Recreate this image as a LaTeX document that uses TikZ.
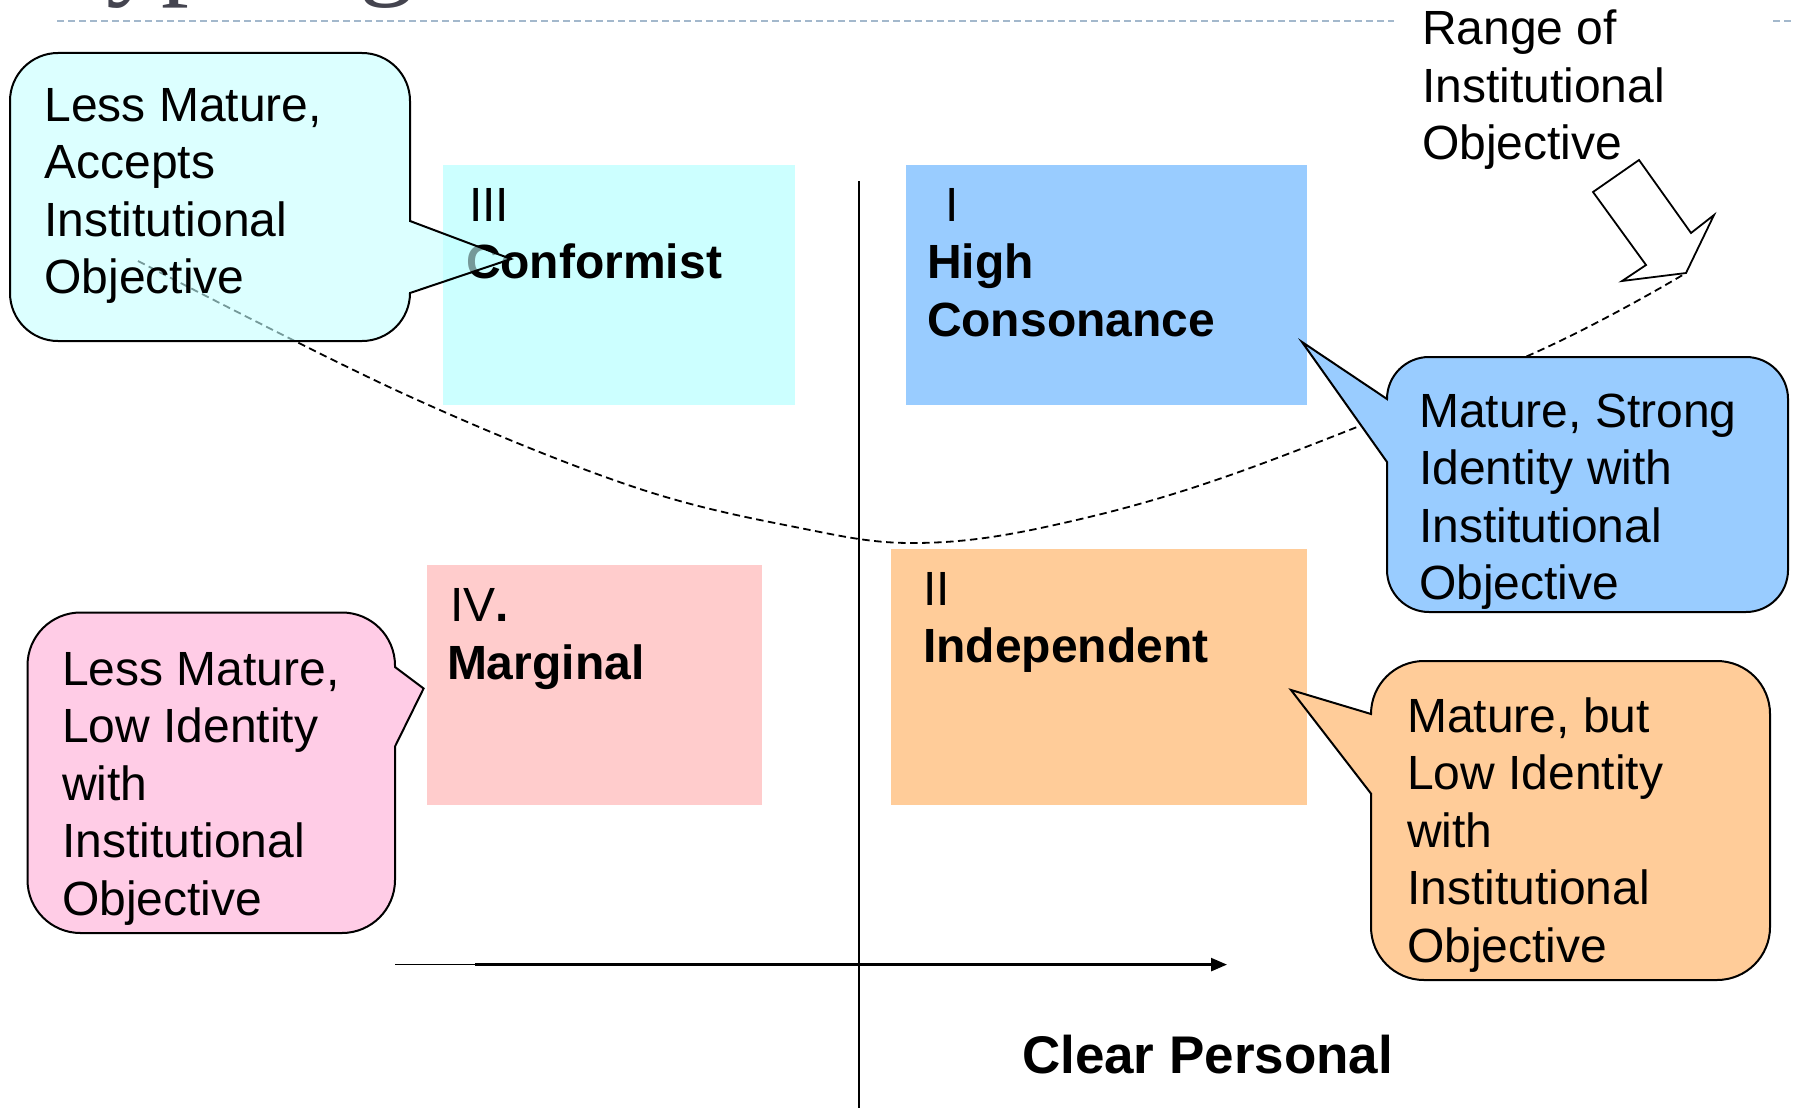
\documentclass[tikz,border=0pt]{standalone}
\usepackage{fontspec}
\setmainfont{Liberation Sans}
\newfontfamily\titleserif{Liberation Serif}
\usetikzlibrary{arrows.meta}
\definecolor{cyanbox}{HTML}{CCFFFF}
\definecolor{cyancall}{HTML}{C4FFFF}
\definecolor{bluebox}{HTML}{99CCFF}
\definecolor{pinkbox}{HTML}{FFCCCC}
\definecolor{pinkcall}{HTML}{FFCCE6}
\definecolor{orangebox}{HTML}{FFCC99}
\definecolor{topdash}{HTML}{A3B8CC}
\definecolor{titlegray}{HTML}{44444F}
\newcommand\mylines[1]{\begin{tabular}[t]{@{}l@{}}#1\end{tabular}}
\tikzset{
  qbox/.style={rectangle, inner sep=0pt, outer sep=0pt, draw=none, anchor=north west},
  lbl/.style={anchor=base west, inner sep=0pt, outer sep=0pt, font=\fontsize{48pt}{57.5pt}\selectfont},
  axislabel/.style={anchor=base west, inner sep=0pt, outer sep=0pt, font=\bfseries\fontsize{53pt}{62pt}\selectfont},
  callout/.style={draw=black, line width=2pt, line join=miter},
  curvedash/.style={draw=black, line width=1.8pt, dash pattern=on 7.5pt off 4.5pt},
  axisline/.style={draw=black, line width=1.8pt},
  blockarrow/.style={draw=black, fill=white, line width=1.8pt, line join=miter},
}
\begin{document}
\begin{tikzpicture}[x=1pt,y=-1pt]
\useasboundingbox (0,0) rectangle (1795,1108);
% title fragment (cut off at the top)
\begin{scope}
\clip (0,0) rectangle (1795,1108);
\node[anchor=base west, inner sep=0pt, text=titlegray, font=\titleserif\fontsize{111pt}{120pt}\selectfont] (title) at (46,-15) {Typologies};
\end{scope}
% top dashed rule
\coordinate (rule0) at (57,20.7);
\coordinate (rule1) at (1795,20.7);
\draw[topdash, line width=1.8pt, dash pattern=on 7.3pt off 3.7pt] (rule0) -- (rule1);
% quadrant boxes
\node[qbox, fill=cyanbox, minimum width=352pt, minimum height=240pt] (q3) at (443,165) {};
\node[qbox, fill=bluebox, minimum width=401pt, minimum height=240pt] (q1) at (906,165) {};
\node[qbox, fill=pinkbox, minimum width=335pt, minimum height=240pt] (q4) at (427,565) {};
\node[qbox, fill=orangebox, minimum width=416pt, minimum height=256pt] (q2) at (891,549) {};
% quadrant labels
\node[lbl] (q3t) at (466,221.4) {\mylines{\hspace*{3pt}III\\\textbf{Conformist}}};
\node[lbl] (q1t) at (927,221) {\mylines{\hspace*{18pt}I\\\textbf{High}\\\textbf{Consonance}}};
\node[lbl] (q4t) at (447,621.5) {\mylines{\hspace*{3pt}IV\textbf{.}\\\textbf{Marginal}}};
\node[lbl] (q2t) at (923,605) {\mylines{II\\\textbf{Independent}}};
% axes
\coordinate (vtop) at (859,181);
\coordinate (vbot) at (859,1108);
\draw[axisline] (vtop) -- (vbot);
\coordinate (hl) at (395,964.6);
\coordinate (hm) at (475,964.6);
\coordinate (hr) at (1227,964.6);
\draw[draw=black, line width=1.2pt] (hl) -- (hm);
\draw[draw=black, line width=2.5pt, -{Triangle[length=16pt,width=13pt]}] (hm) -- (hr);
% dashed range curve
\draw[curvedash] plot[smooth, tension=0.6] coordinates {(138,261) (402,393) (631,486) (800,528) (916,543) (1050,526) (1239,472) (1532,354) (1686,273)};
% callouts
\path[callout, fill=cyancall, fill opacity=0.6]
  (58,53) -- (362,53) .. controls (388.5,53) and (410,74.5) .. (410,101)
  -- (410,221) -- (511,259) -- (410,293)
  .. controls (410,319.5) and (388.5,341) .. (362,341) -- (58,341)
  .. controls (31.5,341) and (10,319.5) .. (10,293) -- (10,101)
  .. controls (10,74.5) and (31.5,53) .. (58,53) -- cycle;
\path[callout, fill=bluebox]
  (1429,357) -- (1746,357) .. controls (1769.2,357) and (1788,375.8) .. (1788,399)
  -- (1788,570) .. controls (1788,593.2) and (1769.2,612) .. (1746,612)
  -- (1429,612) .. controls (1405.8,612) and (1387,593.2) .. (1387,570)
  -- (1387,462) -- (1302,342) -- (1387,399)
  .. controls (1387,375.8) and (1405.8,357) .. (1429,357) -- cycle;
\path[callout, fill=pinkcall]
  (80.5,612.5) -- (342,612.5) .. controls (371.3,612.5) and (395,636.2) .. (395,665.5)
  -- (395,667) -- (423.6,688.5) -- (395,746.5) -- (395,880)
  .. controls (395,909.3) and (371.3,933) .. (342,933) -- (80.5,933)
  .. controls (51.2,933) and (27.5,909.3) .. (27.5,880) -- (27.5,665.5)
  .. controls (27.5,636.2) and (51.2,612.5) .. (80.5,612.5) -- cycle;
\path[callout, fill=orangebox]
  (1424,661) -- (1717,661) .. controls (1746.3,661) and (1770,684.7) .. (1770,714)
  -- (1770,927) .. controls (1770,956.3) and (1746.3,980) .. (1717,980)
  -- (1424,980) .. controls (1394.7,980) and (1371,956.3) .. (1371,927)
  -- (1371,793.6) -- (1291,690) -- (1371,714)
  .. controls (1371,684.7) and (1394.7,661) .. (1424,661) -- cycle;
% callout texts
\node[lbl] (c3t) at (44.5,121.4) {\mylines{Less Mature,\\Accepts\\Institutional\\Objective}};
\node[lbl] (c1t) at (1419,427) {\mylines{Mature, Strong\\Identity with\\Institutional\\Objective}};
\node[lbl] (c4t) at (62,685) {\mylines{Less Mature,\\Low Identity\\with\\Institutional\\Objective}};
\node[lbl] (c2t) at (1407,732) {\mylines{Mature, but\\Low Identity\\with\\Institutional\\Objective}};
% range label with its white backing
\fill[white] (1394,0) rectangle (1770,172);
\node[lbl] (range) at (1422,44.6) {\mylines{Range of\\Institutional\\Objective}};
% block arrow
\draw[blockarrow] (1639,160) -- (1691,233) -- (1714,215) -- (1686,273) -- (1622,281) -- (1646,265) -- (1593,192) -- cycle;
% axis label
\node[axislabel] (xlab) at (1022,1073) {Clear Personal};
\end{tikzpicture}
\end{document}
